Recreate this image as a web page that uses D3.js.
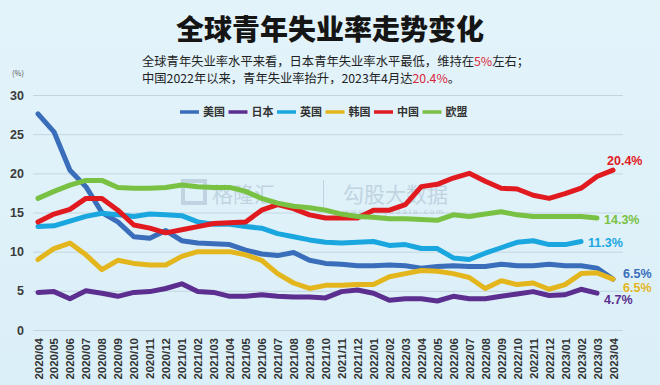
<!DOCTYPE html>
<html>
<head>
<meta charset="utf-8">
<script src="https://cdn.jsdelivr.net/npm/d3@7"></script>
<style>
  html, body { margin: 0; padding: 0; }
  body { width: 660px; height: 385px; overflow: hidden; }
  svg { display: block; font-family: "Noto Sans CJK SC", "Liberation Sans", sans-serif; }
</style>
</head>
<body>
<figure id="line" style="margin:0"></figure>
<script>
// months 2020/04 .. 2023/04
const months = ["2020/04","2020/05","2020/06","2020/07","2020/08","2020/09","2020/10","2020/11","2020/12",
  "2021/01","2021/02","2021/03","2021/04","2021/05","2021/06","2021/07","2021/08","2021/09","2021/10","2021/11","2021/12",
  "2022/01","2022/02","2022/03","2022/04","2022/05","2022/06","2022/07","2022/08","2022/09","2022/10","2022/11","2022/12",
  "2023/01","2023/02","2023/03","2023/04"];

const seriesNames = ["美国", "日本", "英国", "韩国", "中国", "欧盟"];

const usa = [27.6, 25.3, 20.4, 18.3, 15.0, 13.8, 11.9, 11.7, 12.7, 11.4, 11.1, 11.0, 10.9, 10.2, 9.7, 9.5, 9.9, 8.9, 8.5,
  8.4, 8.2, 8.2, 8.3, 8.2, 7.9, 8.1, 8.2, 8.1, 8.1, 8.4, 8.2, 8.2, 8.4, 8.2, 8.2, 7.9, 6.5];
const japan = [4.8, 4.9, 4.0, 5.0, 4.7, 4.3, 4.8, 4.9, 5.3, 5.9, 4.9, 4.8, 4.3, 4.3, 4.5, 4.3, 4.2, 4.2, 4.1,
  4.9, 5.1, 4.7, 3.8, 4.0, 4.0, 3.7, 4.3, 4.0, 4.0, 4.3, 4.6, 4.9, 4.4, 4.5, 5.2, 4.7];
const uk = [13.2, 13.3, 13.9, 14.5, 14.9, 14.7, 14.5, 14.8, 14.7, 14.6, 13.8, 13.5, 13.5, 13.2, 13.0, 12.3, 11.9, 11.5,
  11.2, 11.1, 11.2, 11.3, 10.8, 10.9, 10.4, 10.4, 9.2, 9.0, 9.8, 10.5, 11.2, 11.4, 10.9, 10.9, 11.3];
const korea = [9.0, 10.4, 11.1, 9.6, 7.7, 8.9, 8.5, 8.3, 8.3, 9.4, 10.0, 10.0, 10.0, 9.6, 8.9, 7.2, 6.0, 5.3, 5.7,
  5.7, 5.8, 5.8, 6.8, 7.2, 7.6, 7.5, 7.2, 6.7, 5.3, 6.3, 5.8, 6.0, 5.2, 5.8, 7.2, 7.3, 6.5];
const china = [13.8, 14.8, 15.4, 16.8, 16.8, 15.3, 13.4, 13.0, 12.4, 12.8, 13.2, 13.6, 13.7, 13.8, 15.3, 16.0, 15.5,
  14.7, 14.3, 14.3, 14.3, 15.3, 15.3, 16.0, 18.3, 18.6, 19.4, 20.0, 19.0, 18.1, 18.0, 17.2, 16.8, 17.4, 18.1, 19.6, 20.4];
const eu = [16.8, 17.7, 18.5, 19.1, 19.1, 18.2, 18.1, 18.1, 18.2, 18.5, 18.3, 18.2, 18.2, 17.7, 16.8, 16.2, 15.8,
  15.6, 15.3, 14.8, 14.5, 14.4, 14.2, 14.2, 14.1, 14.0, 14.7, 14.5, 14.8, 15.1, 14.7, 14.5, 14.5, 14.5, 14.5, 14.3];

const yTicks = [0, 5, 10, 15, 20, 25, 30];
const endLabels = ["6.5%", "4.7%", "11.3%", "6.5%", "20.4%", "14.3%"];

const seriesValues = [usa, japan, uk, korea, china, eu];
const colors = ["#3a6dba", "#5b2e90", "#1aa6de", "#e4b61e", "#e11a1f", "#79c143"];
// label offsets from the last point of each line
const labelOffsets = [[10, -1], [7, 11], [7, 6], [10, 13], [-6, -5], [7, 6]];

const width = 660, height = 385;
const svg = d3.select("figure#line")
  .append("svg")
  .attr("width", width)
  .attr("height", height);

const defs = svg.append("defs");
const grad = defs.append("linearGradient").attr("id", "bg").attr("x1", 0).attr("y1", 0).attr("x2", 0).attr("y2", 1);
grad.append("stop").attr("offset", "0%").attr("stop-color", "#e3f3fa");
grad.append("stop").attr("offset", "100%").attr("stop-color", "#dbeff8");
svg.append("rect").attr("width", width).attr("height", height).attr("fill", "url(#bg)");

// scales
const x = d3.scalePoint().domain(months).range([38, 613]);
const y = d3.scaleLinear().domain([0, 30]).range([330, 95]);

// title + notes
svg.append("text")
  .attr("x", 330).attr("y", 40)
  .attr("text-anchor", "middle")
  .attr("font-size", 28).attr("font-weight", 900)
  .attr("fill", "#151515")
  .text("全球青年失业率走势变化");

const note1 = svg.append("text").attr("x", 142).attr("y", 66).attr("font-size", 12.3).attr("fill", "#222");
note1.append("tspan").text("全球青年失业率水平来看，日本青年失业率水平最低，维持在");
note1.append("tspan").attr("fill", "#d8283a").text("5%");
note1.append("tspan").text("左右；");

const note2 = svg.append("text").attr("x", 142).attr("y", 83).attr("font-size", 12.3).attr("fill", "#222");
note2.append("tspan").text("中国2022年以来，青年失业率抬升，2023年4月达");
note2.append("tspan").attr("fill", "#d8283a").text("20.4%");
note2.append("tspan").text("。");

svg.append("text")
  .attr("x", 18).attr("y", 76)
  .attr("text-anchor", "middle")
  .attr("font-size", 7.5).attr("fill", "#555")
  .text("(%)");

// grid + y axis
const yAxis = svg.append("g")
  .attr("transform", "translate(33,0)")
  .call(d3.axisLeft(y).tickValues(yTicks).tickSize(-590).tickPadding(9));
yAxis.select(".domain").remove();
yAxis.selectAll(".tick line").attr("stroke", "#c3d6e0").attr("stroke-width", 1);
yAxis.selectAll(".tick text")
  .attr("font-family", "Liberation Sans, Arial, sans-serif")
  .attr("font-size", 12.5).attr("font-weight", "bold").attr("fill", "#3a3a3a");

// x axis labels
const xAxis = svg.append("g")
  .attr("transform", "translate(0,330)")
  .call(d3.axisBottom(x).tickSize(0).tickPadding(0));
xAxis.select(".domain").remove();
xAxis.selectAll(".tick text")
  .attr("font-family", "Liberation Sans, Arial, sans-serif")
  .attr("font-size", 11.5).attr("font-weight", "bold").attr("fill", "#333")
  .attr("text-anchor", "end")
  .attr("dy", null)
  .attr("transform", "translate(4,8) rotate(-90)");

// watermark
const wm = svg.append("g").attr("opacity", 0.28).attr("fill", "#6f8ba3");
wm.append("rect").attr("x", 183).attr("y", 181).attr("width", 22).attr("height", 22).attr("fill", "none")
  .attr("stroke", "#6f8ba3").attr("stroke-width", 4);
wm.append("text").attr("x", 212).attr("y", 202).attr("font-size", 21).text("格隆汇");
wm.append("rect").attr("x", 323).attr("y", 180).attr("width", 1).attr("height", 28);
wm.append("text").attr("x", 343).attr("y", 202).attr("font-size", 21).text("勾股大数据");
wm.append("text").attr("x", 343).attr("y", 214).attr("font-size", 8).attr("letter-spacing", 2)
  .attr("font-family", "Liberation Sans, sans-serif").text("www.gugudata.com");

// lines
const line = d3.line()
  .x((d, i) => x(months[i]))
  .y(d => y(d));

svg.append("g")
  .selectAll("path")
  .data(seriesValues)
  .join("path")
  .attr("d", line)
  .attr("fill", "none")
  .attr("stroke", (d, i) => colors[i])
  .attr("stroke-width", 5)
  .attr("stroke-linejoin", "round")
  .attr("stroke-linecap", "round");

// end labels
svg.append("g")
  .selectAll("text")
  .data(seriesValues)
  .join("text")
  .attr("x", (d, i) => x(months[d.length - 1]) + labelOffsets[i][0])
  .attr("y", (d, i) => y(d[d.length - 1]) + labelOffsets[i][1])
  .attr("font-family", "Liberation Sans, Arial, sans-serif")
  .attr("font-size", 12.5).attr("font-weight", "bold")
  .attr("fill", (d, i) => colors[i])
  .text((d, i) => endLabels[i]);

// legend
const legend = svg.append("g").attr("transform", "translate(180,112)");
const item = legend.selectAll("g")
  .data(seriesNames)
  .join("g")
  .attr("transform", (d, i) => `translate(${i * 48.5},0)`);
item.append("line")
  .attr("x1", 0).attr("x2", 19)
  .attr("stroke", (d, i) => colors[i])
  .attr("stroke-width", 3.5);
item.append("text")
  .attr("x", 23).attr("y", 4)
  .attr("font-size", 11).attr("font-weight", "bold").attr("fill", "#333")
  .text(d => d);
</script>
</body>
</html>
